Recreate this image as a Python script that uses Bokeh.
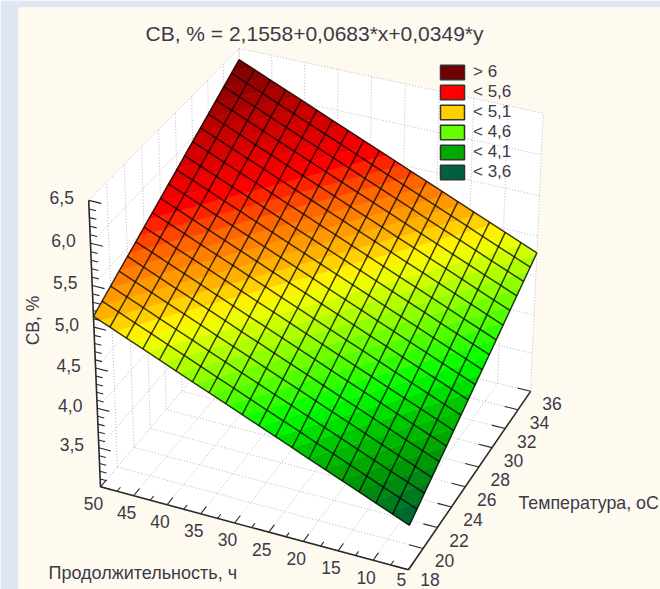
import numpy as np
from bokeh.embed import file_html
from bokeh.resources import INLINE
from bokeh.plotting import figure
from bokeh.models import Range1d, Legend, LegendItem
from bokeh.core.properties import value

TITLE = "СВ, % = 2,1558+0,0683*x+0,0349*y"
X_TITLE = "Продолжительность, ч"
Y_TITLE = "Температура, оС"
Z_TITLE = "СВ, %"
TEMP_NODES = list(range(18, 37))
DUR_NODES = [5 + j * 45 / 19 for j in range(20)]
Z_TABLE = [
 [3.560,3.643,3.725,3.808,3.891,3.974,4.056,4.139,4.222,4.304,4.387,4.470,4.552,4.635,4.718,4.801,4.883,4.966,5.049,5.131],
 [3.628,3.711,3.793,3.876,3.959,4.042,4.124,4.207,4.290,4.372,4.455,4.538,4.620,4.703,4.786,4.869,4.951,5.034,5.117,5.199],
 [3.696,3.779,3.861,3.944,4.027,4.110,4.192,4.275,4.358,4.440,4.523,4.606,4.688,4.771,4.854,4.937,5.019,5.102,5.185,5.267],
 [3.765,3.848,3.930,4.013,4.096,4.179,4.261,4.344,4.427,4.509,4.592,4.675,4.757,4.840,4.923,5.006,5.088,5.171,5.254,5.336],
 [3.833,3.916,3.998,4.081,4.164,4.247,4.329,4.412,4.495,4.577,4.660,4.743,4.825,4.908,4.991,5.074,5.156,5.239,5.322,5.404],
 [3.901,3.984,4.066,4.149,4.232,4.315,4.397,4.480,4.563,4.645,4.728,4.811,4.893,4.976,5.059,5.142,5.224,5.307,5.390,5.472],
 [3.970,4.053,4.135,4.218,4.301,4.384,4.466,4.549,4.632,4.714,4.797,4.880,4.962,5.045,5.128,5.211,5.293,5.376,5.459,5.541],
 [4.038,4.121,4.203,4.286,4.369,4.452,4.534,4.617,4.700,4.782,4.865,4.948,5.030,5.113,5.196,5.279,5.361,5.444,5.527,5.609],
 [4.106,4.189,4.271,4.354,4.437,4.520,4.602,4.685,4.768,4.850,4.933,5.016,5.098,5.181,5.264,5.347,5.429,5.512,5.595,5.677],
 [4.175,4.258,4.340,4.423,4.506,4.589,4.671,4.754,4.837,4.919,5.002,5.085,5.167,5.250,5.333,5.416,5.498,5.581,5.664,5.746],
 [4.243,4.326,4.408,4.491,4.574,4.657,4.739,4.822,4.905,4.987,5.070,5.153,5.235,5.318,5.401,5.484,5.566,5.649,5.732,5.814],
 [4.311,4.394,4.476,4.559,4.642,4.725,4.807,4.890,4.973,5.055,5.138,5.221,5.303,5.386,5.469,5.552,5.634,5.717,5.800,5.882],
 [4.380,4.463,4.545,4.628,4.711,4.794,4.876,4.959,5.042,5.124,5.207,5.290,5.372,5.455,5.538,5.621,5.703,5.786,5.869,5.951],
 [4.448,4.531,4.613,4.696,4.779,4.862,4.944,5.027,5.110,5.192,5.275,5.358,5.440,5.523,5.606,5.689,5.771,5.854,5.937,6.019],
 [4.516,4.599,4.681,4.764,4.847,4.930,5.012,5.095,5.178,5.260,5.343,5.426,5.508,5.591,5.674,5.757,5.839,5.922,6.005,6.087],
 [4.585,4.668,4.750,4.833,4.916,4.999,5.081,5.164,5.247,5.329,5.412,5.495,5.577,5.660,5.743,5.826,5.908,5.991,6.074,6.156],
 [4.653,4.736,4.818,4.901,4.984,5.067,5.149,5.232,5.315,5.397,5.480,5.563,5.645,5.728,5.811,5.894,5.976,6.059,6.142,6.224],
 [4.721,4.804,4.886,4.969,5.052,5.135,5.217,5.300,5.383,5.465,5.548,5.631,5.713,5.796,5.879,5.962,6.044,6.127,6.210,6.292],
 [4.790,4.873,4.955,5.038,5.121,5.204,5.286,5.369,5.452,5.534,5.617,5.700,5.782,5.865,5.948,6.031,6.113,6.196,6.279,6.361],
]
TEMP_TICKS = [18, 20, 22, 24, 26, 28, 30, 32, 34, 36]
DUR_TICKS = [5, 10, 15, 20, 25, 30, 35, 40, 45, 50]
Z_TICKS = [3.5, 4.0, 4.5, 5.0, 5.5, 6.0, 6.5]
Z_LABELS = ["3,5", "4,0", "4,5", "5,0", "5,5", "6,0", "6,5"]
Z_FLOOR, Z_TOP = 3.0, 6.5
LEGEND_LABELS = ["> 6", "< 5,6", "< 5,1", "< 4,6", "< 4,1", "< 3,6"]
LEGEND_COLORS = ["#6e0000", "#ff0000", "#ffd000", "#66ff00", "#00aa00", "#006040"]
RAMP_Z = [3.50, 3.70, 3.90, 4.10, 4.30, 4.55, 4.95, 5.13, 5.25, 5.40, 5.62, 6.00, 6.40]
RAMP_C = ["#005040", "#007a20", "#00a000", "#00c800", "#00ff00", "#66ff00", "#ffff00",
          "#ffb400", "#ff9000", "#ff6000", "#ff0000", "#c00000", "#6e0000"]

# Camera of the 3-D view (homogeneous, on axes normalised to their ranges)
CAMERA = np.array([[167.725, -304.286, -17.239, 407.964],
                   [-144.868, -65.019, -308.399, 569.317],
                   [0.086, 0.037, -0.057, 1.000]])

def project(T, t, z):
    q = CAMERA @ np.array([(T-18)/18, (t-5)/45, (z-Z_FLOOR)/(Z_TOP-Z_FLOOR), 1.0])
    return q[0]/q[2], q[1]/q[2]

def pline(pts):
    xy = [project(*q) for q in pts]
    return [a for a,_ in xy], [b for _,b in xy]

def hex2(c): return np.array([int(c[i:i+2],16) for i in (1,3,5)], float)
def color_for(z):
    rgb = [np.interp(z, RAMP_Z, [hex2(c)[k] for c in RAMP_C]) for k in range(3)]
    return "#%02x%02x%02x" % tuple(int(round(x)) for x in rgb)

def clip(poly, level, keep_above):
    out = []
    for i in range(len(poly)):
        a, b = poly[i], poly[(i+1) % len(poly)]
        ina = a[2] >= level if keep_above else a[2] <= level
        inb = b[2] >= level if keep_above else b[2] <= level
        if ina: out.append(a)
        if ina != inb:
            s = (level-a[2])/(b[2]-a[2])
            out.append(tuple(a[k]+s*(b[k]-a[k]) for k in range(3)))
    return out

INK = "#3a3a48"
PANEL = "#fffaf0"
p = figure(width=660, height=589, x_range=Range1d(0, 660), y_range=Range1d(589, 0),
           output_backend="svg", toolbar_location=None, min_border=0,
           background_fill_color=PANEL, border_fill_color=PANEL, outline_line_color=None)
p.axis.visible = False
p.grid.visible = False

p.quad(left=[0, 18], right=[18, 660], top=[0, 0], bottom=[589, 7], fill_color="#dfe7f3", line_color=None)
p.quad(left=[18], right=[660], top=[7], bottom=[589], fill_color=PANEL, line_color=None)

# walls and floor
wall = [(18,50,Z_FLOOR),(18,50,Z_TOP),(36,50,Z_TOP),(36,5,Z_TOP),(36,5,Z_FLOOR),(18,5,Z_FLOOR)]
wx, wy = pline(wall)
p.patch(wx, wy, fill_color="#ffffff", line_color=None)

dx, dy = [], []
for z in Z_TICKS:
    for q in ([(18,50,z),(36,50,z)], [(36,50,z),(36,5,z)]):
        a, b = pline(q); dx.append(a); dy.append(b)
for T in TEMP_TICKS:
    for q in ([(T,50,Z_FLOOR),(T,50,Z_TOP)], [(T,5,Z_FLOOR),(T,50,Z_FLOOR)]):
        a, b = pline(q); dx.append(a); dy.append(b)
for t in DUR_TICKS:
    for q in ([(36,t,Z_FLOOR),(36,t,Z_TOP)], [(18,t,Z_FLOOR),(36,t,Z_FLOOR)]):
        a, b = pline(q); dx.append(a); dy.append(b)
p.multi_line(dx, dy, line_color="#b8b8b8", line_width=1, line_dash="1 2")

# axes
for q in ([(18,50,Z_FLOOR),(18,50,Z_TOP)], [(18,50,Z_FLOOR),(18,5,Z_FLOOR)], [(18,5,Z_FLOOR),(36,5,Z_FLOOR)]):
    a, b = pline(q)
    p.line(a, b, line_color="#2a2a2a", line_width=1.6)

sx0, sy0, sx1, sy1 = [], [], [], []
def tick(q0, q1):
    a = project(*q0); b = project(*q1)
    sx0.append(a[0]); sy0.append(a[1]); sx1.append(b[0]); sy1.append(b[1])
for T in np.arange(18, 36.01, 2):
    tick((T,5,Z_FLOOR), (T,7,Z_FLOOR))
for t in np.arange(5, 50.01, 2.5):
    tick((18,t,Z_FLOOR), (18.7 if t % 5 == 0 else 18.4,t,Z_FLOOR))
for z in np.arange(3.0, 6.51, 0.1):
    tick((18,50,z), (18,48.2 if abs(z*2-round(z*2)) < 1e-6 else 49,z))
p.segment(sx0, sy0, sx1, sy1, line_color="#2a2a2a", line_width=1.1)

# surface
bx, by, bc = [], [], []
levels = np.arange(3.50, 6.45, 0.08)
for i in range(len(TEMP_NODES)-1):
    for j in range(len(DUR_NODES)-1):
        cell = [(TEMP_NODES[i], DUR_NODES[j], Z_TABLE[i][j]),
                (TEMP_NODES[i+1], DUR_NODES[j], Z_TABLE[i+1][j]),
                (TEMP_NODES[i+1], DUR_NODES[j+1], Z_TABLE[i+1][j+1]),
                (TEMP_NODES[i], DUR_NODES[j+1], Z_TABLE[i][j+1])]
        for lo in levels:
            poly = clip(cell, lo, True)
            if len(poly) >= 3:
                poly = clip(poly, lo+0.08, False)
            if len(poly) >= 3:
                a, b = pline(poly)
                bx.append(a); by.append(b); bc.append(color_for(lo+0.04))
p.patches(bx, by, fill_color=bc, line_color=bc, line_width=0.6)

gx, gy = [], []
for i, T in enumerate(TEMP_NODES):
    a, b = pline([(T, DUR_NODES[j], Z_TABLE[i][j]) for j in range(len(DUR_NODES))])
    gx.append(a); gy.append(b)
for j, t in enumerate(DUR_NODES):
    a, b = pline([(TEMP_NODES[i], t, Z_TABLE[i][j]) for i in range(len(TEMP_NODES))])
    gx.append(a); gy.append(b)
p.multi_line(gx, gy, line_color="#000000", line_alpha=0.75, line_width=1.5)

# tick labels
def labels(pts, texts, ox, oy, size="17.5px"):
    xy = [project(*q) for q in pts]
    p.text([a for a,_ in xy], [b for _,b in xy], text=texts, x_offset=ox, y_offset=oy,
           text_align="center", text_baseline="middle", text_color=INK,
           text_font=value("Liberation Sans"), text_font_size=size)
labels([(18,50,z) for z in Z_TICKS], Z_LABELS, -27, -3)
labels([(18,t,Z_FLOOR) for t in DUR_TICKS], [str(t) for t in DUR_TICKS], -7,
       [10 if t == 5 else 17 for t in DUR_TICKS])
labels([(T,5,Z_FLOOR) for T in TEMP_TICKS], [str(T) for T in TEMP_TICKS], 21.5,
       [9.5 if T == 18 else 12.5 for T in TEMP_TICKS])

def free_text(x, y, s, size, align="left", angle=0):
    p.text([x], [y], text=[s], text_align=align, text_baseline="middle", angle=angle, text_color=INK,
           text_font=value("Liberation Sans"), text_font_size=size)
free_text(314, 33, TITLE, "21px", "center")
free_text(48, 572, X_TITLE, "18px")
free_text(518, 502, Y_TITLE, "17.8px")
free_text(32, 320, Z_TITLE, "17.5px", "center", np.pi/2)

items = []
for lab, col in zip(LEGEND_LABELS, LEGEND_COLORS):
    r = p.quad(left=[-40], right=[-20], top=[-40], bottom=[-20], fill_color=col, line_color="#333333", line_width=1.5)
    items.append(LegendItem(label=lab, renderers=[r]))
leg = Legend(items=items, location=(437, 589-58-124), orientation="vertical", glyph_width=30, glyph_height=18,
             spacing=0, padding=0, margin=0, label_standoff=6, background_fill_alpha=0, border_line_color=None,
             label_text_font="Liberation Sans", label_text_font_size="17px", label_text_color=INK,
             label_height=16)
p.add_layout(leg, "center")

open("out.html", "w").write(file_html(p, INLINE))
